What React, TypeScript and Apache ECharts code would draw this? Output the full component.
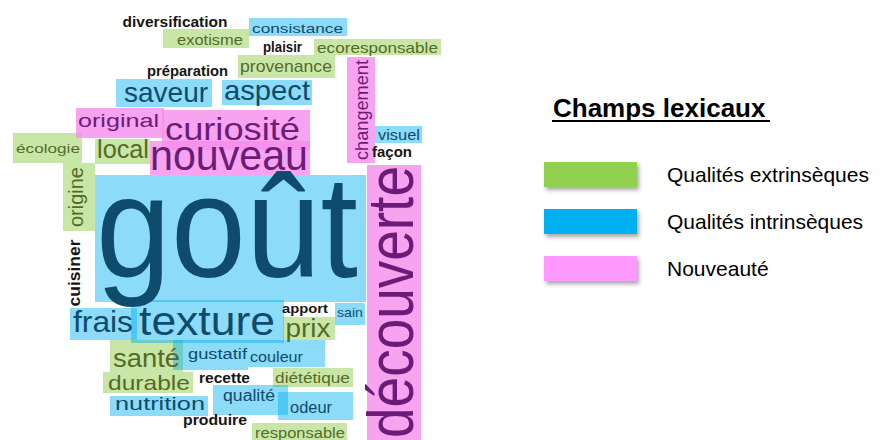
import React, { useEffect, useRef } from "react";
import * as echarts from "echarts";

// Word cloud content
const words = [
  "diversification", "consistance", "exotisme", "plaisir", "ecoresponsable",
  "préparation", "provenance", "saveur", "aspect", "changement",
  "original", "curiosité", "visuel", "façon", "écologie",
  "local", "nouveau", "origine", "cuisiner", "goût",
  "découverte", "frais", "texture", "apport", "sain",
  "prix", "santé", "gustatif", "couleur", "recette",
  "diététique", "durable", "nutrition", "qualité", "odeur",
  "produire", "responsable",
];
// 0 = Qualités extrinsèques, 1 = Qualités intrinsèques, 2 = Nouveauté, 3 = non classé
const groups = [
  3, 1, 0, 3, 0,
  3, 0, 1, 1, 2,
  2, 2, 1, 3, 0,
  0, 2, 0, 3, 1,
  2, 1, 1, 3, 1,
  0, 0, 1, 1, 3,
  0, 0, 1, 1, 1,
  3, 0,
];
// word weight (rendered as font size)
const weights = [
  15, 13, 14, 14, 14,
  14, 16, 28, 27, 19,
  19, 32, 14, 14, 13,
  25, 42, 20, 17, 145,
  64, 30, 40, 12, 13,
  26, 26, 15, 15, 14,
  14, 20, 18, 16, 16,
  15, 15,
];
// layout of the cloud (cloud coordinates)
const posX = [
  175, 297.5, 210, 282.5, 377.5,
  187.5, 286, 166, 267, 361,
  118.5, 232.5, 399, 392, 48,
  123, 229, 76, 74, 227,
  391, 103, 207, 305, 350,
  308, 146.5, 217.5, 276.5, 224.5,
  312.5, 149, 160, 249, 311,
  215, 300,
];
const posY = [
  22, 28.5, 40, 47, 48,
  71, 66.5, 92, 91, 110,
  121, 129, 135, 152, 148,
  149, 155, 197, 273, 227,
  302, 322, 321, 309, 313,
  328, 358, 354, 357, 378,
  378, 383, 404, 396, 407,
  420, 433,
];
const spans = [
  105, 91, 66, 39, 121,
  81, 92, 84, 86, 100,
  81, 135, 42, 40, 64,
  52, 158, 60, 67, 262,
  272, 60, 136, 46, 26,
  45, 67, 59, 53, 51,
  75, 82, 90, 52, 42,
  64, 90,
];
const vertical = [
  false, false, false, false, false,
  false, false, false, false, true,
  false, false, false, false, false,
  false, false, true, true, false,
  true, false, false, false, false,
  false, false, false, false, false,
  false, false, false, false, false,
  false, false,
];
const boxes: (number[] | null)[] = [
  null, [249, 18, 347, 36], [163, 29, 249, 48], null, [314, 39, 441, 55],
  null, [238, 55, 335, 78], [116, 79, 212, 107], [222, 80, 312, 105], [347, 57, 375, 163],
  [76, 108, 164, 138], [162, 110, 310, 150], [375, 126, 422, 143], null, [13, 133, 82, 163],
  [95, 139, 150, 164], [150, 141, 310, 175], [63, 163, 95, 231], null, [95, 175, 366, 302],
  [367, 165, 421, 440], [70, 308, 137, 340], [131, 300, 284, 343], null, [335, 303, 365, 325],
  [283, 317, 335, 340], [110, 340, 183, 372], [173, 340, 248, 370], [248, 340, 325, 367], null,
  [273, 368, 353, 387], [103, 372, 193, 393], [110, 396, 208, 416], [213, 385, 288, 415], [278, 392, 353, 420],
  null, [252, 423, 347, 440],
];

const groupNames = ["Qualités extrinsèques", "Qualités intrinsèques", "Nouveauté"];
const legendTitle = "Champs lexicaux";

const FONT = "'Liberation Sans', Arial, Helvetica, sans-serif";
const legendColors = ["#92D050", "#00B0F0", "#FF99FF"];
const bgColors = [
  "rgba(146,208,80,0.5)",
  "rgba(0,176,240,0.45)",
  "rgba(245,140,235,0.8)",
  "transparent",
];
const textColors = ["#566a28", "#0f4b6c", "#6a1c78", "#151515"];

let measureCtx: CanvasRenderingContext2D | null = null;
function measure(text: string, size: number, bold: boolean): number {
  if (!measureCtx) measureCtx = document.createElement("canvas").getContext("2d");
  if (!measureCtx) return text.length * size * 0.55;
  measureCtx.font = `${bold ? "bold " : ""}${size}px ${FONT}`;
  return measureCtx.measureText(text).width;
}

export default function App() {
  const ref = useRef<HTMLDivElement>(null);
  useEffect(() => {
    if (!ref.current) return;
    document.body.style.margin = "0";
    const chart = echarts.init(ref.current, undefined, { renderer: "svg" });

    const renderItem = (params: any, api: any) => {
      const i = api.value(2);
      const g = groups[i];
      const bold = g === 3;
      const p = api.coord([api.value(0), api.value(1)]);
      const children: any[] = [];
      const b = boxes[i];
      if (b) {
        const a = api.coord([b[0], b[1]]);
        const c = api.coord([b[2], b[3]]);
        children.push({
          type: "rect",
          z2: 0,
          shape: {
            x: Math.min(a[0], c[0]),
            y: Math.min(a[1], c[1]),
            width: Math.abs(c[0] - a[0]),
            height: Math.abs(c[1] - a[1]),
          },
          style: { fill: bgColors[g] },
        });
      }
      const w = measure(words[i], weights[i], bold);
      const s0 = api.coord([0, 0]);
      const s1 = api.coord([spans[i], 0]);
      const target = Math.abs(s1[0] - s0[0]);
      children.push({
        type: "text",
        z2: 10,
        x: p[0],
        y: p[1],
        rotation: vertical[i] ? Math.PI / 2 : 0,
        scaleX: w > 0 ? target / w : 1,
        scaleY: 1,
        style: {
          text: words[i],
          fontSize: weights[i],
          fontFamily: FONT,
          fontWeight: bold ? "bold" : "normal",
          fill: textColors[g],
          align: "center",
          verticalAlign: "middle",
        },
      });
      return { type: "group", children };
    };

    const seriesFor = (g: number, name: string, color: string) => ({
      type: "custom",
      name,
      silent: true,
      clip: false,
      itemStyle: { color },
      renderItem,
      data: words
        .map((_, i) => i)
        .filter((i) => groups[i] === g)
        .map((i) => [posX[i], posY[i], i]),
    });

    chart.setOption({
      animation: false,
      grid: { left: 0, right: 0, top: 0, bottom: 0 },
      xAxis: { type: "value", min: 0, max: 882, show: false },
      yAxis: { type: "value", min: 0, max: 440, inverse: true, show: false },
      legend: {
        orient: "vertical",
        left: 544,
        top: 162,
        padding: 0,
        itemWidth: 93,
        itemHeight: 25,
        itemGap: 22,
        icon: "rect",
        selectedMode: false,
        data: groupNames,
        itemStyle: {
          shadowBlur: 4,
          shadowColor: "rgba(0,0,0,0.35)",
          shadowOffsetX: 2,
          shadowOffsetY: 3,
        },
        textStyle: {
          fontSize: 21,
          fontFamily: FONT,
          color: "#000",
          padding: [0, 0, 0, 25],
        },
      },
      graphic: [
        {
          type: "text",
          x: 553,
          y: 108,
          style: {
            text: legendTitle,
            fontSize: 26,
            fontWeight: "bold",
            fontFamily: FONT,
            fill: "#000",
            align: "left",
            verticalAlign: "middle",
          },
        },
        {
          type: "line",
          shape: { x1: 552, y1: 121, x2: 770, y2: 121 },
          style: { stroke: "#000", lineWidth: 2 },
        },
      ],
      series: [
        seriesFor(0, groupNames[0], legendColors[0]),
        seriesFor(1, groupNames[1], legendColors[1]),
        seriesFor(2, groupNames[2], legendColors[2]),
        seriesFor(3, "autres", "#000"),
      ],
    });
    return () => chart.dispose();
  }, []);
  return (
    <div
      ref={ref}
      style={{ position: "absolute", left: 0, top: 0, width: 882, height: 440 }}
    />
  );
}
